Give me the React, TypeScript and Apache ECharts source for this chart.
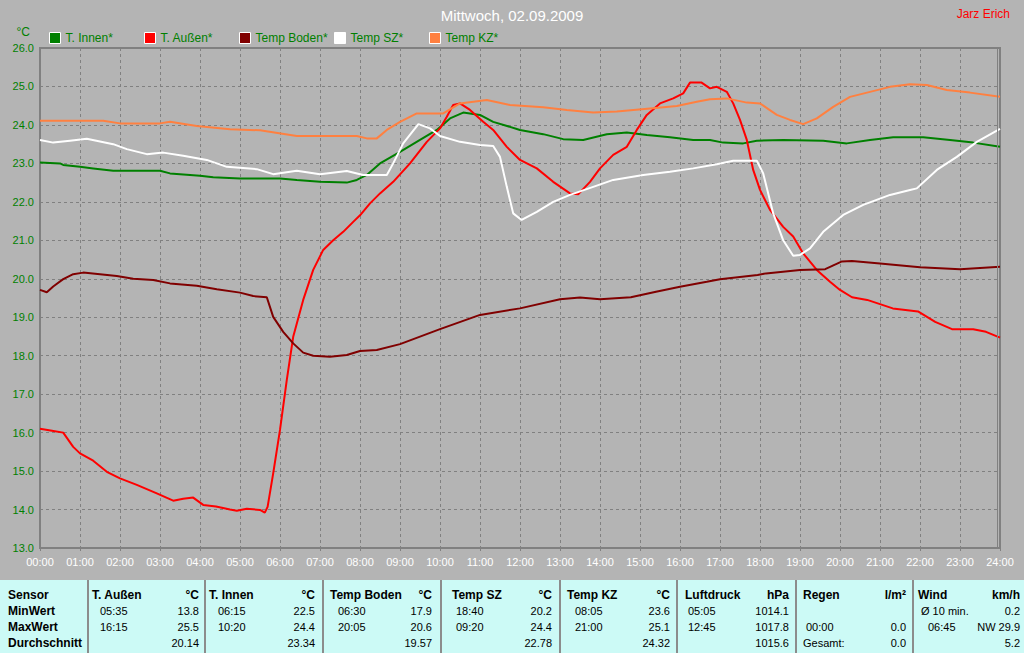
import React, { useEffect, useRef } from "react";
import * as echarts from "echarts";

// ---------- chart data ----------
const seriesNames = ["T. Innen*", "T. Außen*", "Temp Boden*", "Temp SZ*", "Temp KZ*"];
const seriesColors = ["#008000", "#ff0000", "#800000", "#ffffff", "#ff8040"];

const innenTimes = [0, 0.5, 0.58, 1, 1.33, 1.83, 3, 3.25, 4, 4.33, 5, 6, 6.42, 7, 7.67, 7.92, 8.17, 8.5, 9, 9.5, 9.92, 10.25, 10.58, 11, 11.33, 12, 12.58, 13.08, 13.58, 14.17, 14.67, 15.17, 15.75, 16.33, 16.75, 17.08, 17.58, 17.92, 18.58, 19.58, 20.17, 20.75, 21.33, 22.08, 22.75, 23.33, 24];
const innenValues = [23.02, 23.0, 22.96, 22.91, 22.87, 22.81, 22.81, 22.74, 22.68, 22.64, 22.61, 22.61, 22.57, 22.52, 22.5, 22.57, 22.7, 23.0, 23.3, 23.61, 23.87, 24.17, 24.32, 24.26, 24.08, 23.87, 23.76, 23.63, 23.61, 23.76, 23.8, 23.74, 23.68, 23.61, 23.61, 23.54, 23.52, 23.59, 23.61, 23.59, 23.52, 23.61, 23.68, 23.68, 23.61, 23.54, 23.43];

const aussenTimes = [0, 0.3, 0.58, 0.83, 1, 1.33, 1.67, 2, 2.42, 2.92, 3.33, 3.58, 3.83, 4.08, 4.4, 4.75, 4.92, 5.17, 5.5, 5.62, 5.69, 5.83, 6, 6.17, 6.33, 6.58, 6.83, 7.08, 7.33, 7.58, 7.83, 8, 8.25, 8.5, 8.83, 9.25, 9.67, 10, 10.17, 10.33, 10.5, 10.75, 11.08, 11.33, 11.67, 12, 12.42, 12.83, 13.25, 13.46, 13.75, 14, 14.33, 14.67, 14.92, 15.17, 15.5, 15.83, 16.08, 16.25, 16.54, 16.75, 16.92, 17.17, 17.33, 17.5, 17.67, 17.83, 18, 18.25, 18.58, 18.83, 19.08, 19.42, 19.75, 20, 20.3, 20.68, 21.32, 21.95, 22.38, 22.8, 23.33, 23.65, 24];
const aussenValues = [16.1, 16.05, 16.0, 15.63, 15.46, 15.27, 14.98, 14.81, 14.64, 14.42, 14.23, 14.28, 14.31, 14.12, 14.08, 14.0, 13.97, 14.02, 13.99, 13.92, 14.07, 14.94, 16.07, 17.37, 18.49, 19.45, 20.23, 20.75, 21.0, 21.22, 21.48, 21.65, 21.96, 22.22, 22.52, 23.0, 23.56, 23.91, 24.21, 24.52, 24.56, 24.39, 24.08, 23.87, 23.43, 23.09, 22.87, 22.52, 22.22, 22.2, 22.52, 22.87, 23.22, 23.43, 23.87, 24.26, 24.56, 24.69, 24.82, 25.1, 25.1, 24.95, 24.99, 24.86, 24.56, 24.13, 23.61, 22.83, 22.31, 21.79, 21.35, 21.1, 20.66, 20.23, 19.92, 19.71, 19.52, 19.45, 19.23, 19.15, 18.88, 18.69, 18.69, 18.62, 18.47];

const bodenTimes = [0, 0.17, 0.33, 0.58, 0.83, 1.08, 1.5, 1.92, 2.33, 2.83, 3.25, 3.92, 4.42, 5, 5.33, 5.67, 5.83, 6.08, 6.33, 6.58, 6.83, 7.25, 7.67, 8, 8.42, 9, 10, 11, 12, 13, 13.5, 14, 14.77, 15.4, 16, 16.67, 17, 17.94, 18.15, 19, 19.63, 20.05, 20.3, 21, 22, 23, 24];
const bodenValues = [19.71, 19.65, 19.8, 19.99, 20.12, 20.16, 20.12, 20.07, 20.0, 19.97, 19.88, 19.82, 19.73, 19.64, 19.55, 19.52, 19.01, 18.62, 18.32, 18.08, 18.0, 17.97, 18.02, 18.12, 18.15, 18.3, 18.69, 19.06, 19.23, 19.47, 19.51, 19.47, 19.52, 19.66, 19.79, 19.92, 19.99, 20.1, 20.14, 20.23, 20.25, 20.45, 20.46, 20.4, 20.3, 20.25, 20.31];

const szTimes = [0, 0.33, 0.75, 1.17, 1.83, 2.17, 2.67, 3.08, 3.58, 4.17, 4.67, 5.42, 5.83, 6.42, 7, 7.67, 8.08, 8.67, 8.83, 9.08, 9.46, 9.75, 10, 10.5, 11, 11.33, 11.5, 11.67, 11.83, 12.04, 12.42, 12.83, 13.25, 13.83, 14.33, 15.08, 15.75, 16.33, 16.92, 17.33, 17.92, 18.08, 18.33, 18.58, 18.83, 19, 19.25, 19.58, 20.08, 20.58, 21.25, 21.75, 21.92, 22.42, 22.92, 23.42, 24];
const szValues = [23.61, 23.54, 23.59, 23.64, 23.5, 23.37, 23.24, 23.28, 23.2, 23.09, 22.91, 22.85, 22.72, 22.81, 22.72, 22.8, 22.7, 22.7, 23.0, 23.52, 24.02, 23.91, 23.71, 23.56, 23.48, 23.45, 23.17, 22.39, 21.7, 21.53, 21.74, 22.0, 22.18, 22.39, 22.57, 22.7, 22.78, 22.87, 22.98, 23.07, 23.07, 22.74, 21.7, 21.0, 20.6, 20.62, 20.79, 21.22, 21.66, 21.92, 22.18, 22.31, 22.35, 22.83, 23.17, 23.56, 23.9];

const kzTimes = [0, 1.58, 2, 3, 3.25, 3.92, 4.75, 5.5, 6.42, 7.92, 8.17, 8.42, 8.67, 9, 9.42, 10.08, 10.5, 11.17, 11.75, 12.58, 13.17, 13.83, 14.42, 15.25, 15.92, 16.42, 16.75, 17.17, 17.67, 18, 18.42, 18.75, 19.08, 19.42, 19.83, 20.25, 20.75, 21.25, 21.75, 22.17, 22.67, 23.25, 24];
const kzValues = [24.11, 24.11, 24.04, 24.04, 24.08, 23.97, 23.89, 23.86, 23.71, 23.71, 23.65, 23.65, 23.87, 24.08, 24.3, 24.3, 24.56, 24.65, 24.52, 24.46, 24.39, 24.32, 24.35, 24.43, 24.49, 24.6, 24.67, 24.69, 24.58, 24.56, 24.26, 24.13, 24.02, 24.17, 24.47, 24.73, 24.86, 24.99, 25.06, 25.04, 24.91, 24.84, 24.73];

// ---------- table data ----------
const rowLabels = ["Sensor", "MinWert", "MaxWert", "Durchschnitt"];
const tableHeaders = ["T. Außen", "T. Innen", "Temp Boden", "Temp SZ", "Temp KZ", "Luftdruck", "Regen", "Wind"];
const tableUnits = ["°C", "°C", "°C", "°C", "°C", "hPa", "l/m²", "km/h"];
const minTimes = ["05:35", "06:15", "06:30", "18:40", "08:05", "05:05", "", "Ø 10 min."];
const minValues = ["13.8", "22.5", "17.9", "20.2", "23.6", "1014.1", "", "0.2"];
const maxTimes = ["16:15", "10:20", "20:05", "09:20", "21:00", "12:45", "00:00", "06:45"];
const maxValues = ["25.5", "24.4", "20.6", "24.4", "25.1", "1017.8", "0.0", "NW 29.9"];
const avgLabels = ["", "", "", "", "", "", "Gesamt:", ""];
const avgValues = ["20.14", "23.34", "19.57", "22.78", "24.32", "1015.6", "0.0", "5.2"];

// ---------- layout (not data) ----------
const colLines = [88, 205, 323, 441, 560, 677, 796, 913];
const headerX = [92, 209, 330, 452, 567, 685, 803, 918];
const minTimeX = [100, 218, 338, 456, 575, 688, 806, 921];
const maxTimeX = [100, 218, 338, 456, 575, 688, 806, 928];
const avgLabelX = [100, 218, 338, 456, 575, 688, 803, 928];
const rightX = [199, 315, 432, 552, 670, 789, 906, 1020];
const rowY = [595, 611, 627, 643];

const FONT = '"Liberation Sans", Arial, sans-serif';

function zip(t: number[], v: number[]) {
  return t.map((x, i) => [x, v[i]]);
}

function txt(text: string, x: number, y: number, opts: any = {}) {
  const align = opts.align || "left";
  return {
    type: "text",
    silent: true,
    z: 10,
    style: {
      text,
      x,
      y,
      fill: opts.fill || "#000000",
      font: opts.font || `11px ${FONT}`,
      textAlign: align,
      align,
      textVerticalAlign: "middle",
      verticalAlign: "middle",
    },
  };
}

export default function App() {
  const ref = useRef<HTMLDivElement>(null);
  useEffect(() => {
    if (!ref.current) return;
    const chart = echarts.init(ref.current, null, { renderer: "svg" });

    const seriesData = [
      zip(innenTimes, innenValues),
      zip(aussenTimes, aussenValues),
      zip(bodenTimes, bodenValues),
      zip(szTimes, szValues),
      zip(kzTimes, kzValues),
    ];

    const bold = `bold 12px ${FONT}`;
    const normal = `11px ${FONT}`;
    const tableEls: any[] = [];
    tableEls.push({
      type: "rect",
      silent: true,
      z: 5,
      shape: { x: 0, y: 580, width: 1024, height: 73 },
      style: { fill: "#ccfaf6" },
    });
    colLines.forEach((x) => {
      tableEls.push({
        type: "line",
        silent: true,
        z: 6,
        shape: { x1: x, y1: 580, x2: x, y2: 653 },
        style: { stroke: "#8c8c8c", lineWidth: 2 },
      });
    });
    rowLabels.forEach((l, r) => tableEls.push(txt(l, 8, rowY[r], { font: bold })));
    tableHeaders.forEach((h, c) => {
      tableEls.push(txt(h, headerX[c], rowY[0], { font: bold }));
      tableEls.push(txt(tableUnits[c], rightX[c], rowY[0], { font: bold, align: "right" }));
      if (minTimes[c]) tableEls.push(txt(minTimes[c], minTimeX[c], rowY[1], { font: normal }));
      if (minValues[c]) tableEls.push(txt(minValues[c], rightX[c], rowY[1], { font: normal, align: "right" }));
      if (maxTimes[c]) tableEls.push(txt(maxTimes[c], maxTimeX[c], rowY[2], { font: normal }));
      if (maxValues[c]) tableEls.push(txt(maxValues[c], rightX[c], rowY[2], { font: normal, align: "right" }));
      if (avgLabels[c]) tableEls.push(txt(avgLabels[c], avgLabelX[c], rowY[3], { font: normal }));
      if (avgValues[c]) tableEls.push(txt(avgValues[c], rightX[c], rowY[3], { font: normal, align: "right" }));
    });

    const pad = (n: number) => (n < 10 ? "0" + n : "" + n);

    const option: any = {
      animation: false,
      backgroundColor: "#b4b4b4",
      title: [
        {
          text: "Mittwoch, 02.09.2009",
          left: "center",
          top: 3,
          textStyle: { color: "#ffffff", fontSize: 15, fontWeight: "normal", fontFamily: FONT },
        },
        {
          text: "Jarz Erich",
          right: 9,
          top: 3,
          textStyle: { color: "#ff0000", fontSize: 12, fontWeight: "normal", fontFamily: FONT },
        },
      ],
      legend: seriesNames.map((n, i) => ({
        data: [n],
        left: 49 + 95 * i,
        top: 32,
        itemWidth: 11,
        itemHeight: 11,
        icon: "rect",
        selectedMode: false,
        padding: 0,
        itemStyle: { borderColor: "#ffffff", borderWidth: 1 },
        textStyle: { color: "#008000", fontSize: 12, fontFamily: FONT, padding: [0, 0, 0, 0] },
      })),
      grid: {
        left: 40,
        right: 24,
        top: 48,
        bottom: 105,
        show: true,
        borderColor: "#808080",
        borderWidth: 2,
        backgroundColor: "transparent",
      },
      xAxis: {
        type: "value",
        min: 0,
        max: 24,
        interval: 1,
        axisLine: { show: false },
        axisTick: { show: true, length: 3, lineStyle: { color: "#808080" } },
        axisLabel: {
          color: "#ffffff",
          fontSize: 11,
          fontFamily: FONT,
          margin: 8,
          formatter: (v: number) => pad(v) + ":00",
        },
        splitLine: { show: true, lineStyle: { color: "#808080", type: [3, 3], width: 1 } },
      },
      yAxis: {
        type: "value",
        min: 13,
        max: 26,
        interval: 1,
        name: "°C",
        nameLocation: "end",
        nameGap: 10,
        nameTextStyle: { color: "#008000", fontSize: 12, fontFamily: FONT, align: "right", padding: [0, 10, 0, 0] },
        axisLine: { show: false },
        axisTick: { show: false },
        axisLabel: {
          color: "#008000",
          fontSize: 11,
          fontFamily: FONT,
          margin: 6,
          formatter: (v: number) => v.toFixed(1),
        },
        splitLine: { show: true, lineStyle: { color: "#808080", type: [3, 3], width: 1 } },
      },
      series: seriesNames.map((n, i) => ({
        name: n,
        type: "line",
        data: seriesData[i],
        showSymbol: false,
        symbol: "none",
        color: seriesColors[i],
        lineStyle: { color: seriesColors[i], width: 2 },
        z: 3,
      })),
      graphic: [
        {
          type: "line",
          silent: true,
          z: 4,
          shape: { x1: 997.5, y1: 48, x2: 997.5, y2: 548 },
          style: { stroke: "#808080", lineWidth: 1 },
        },
        ...tableEls,
      ],
    };
    chart.setOption(option);
    return () => chart.dispose();
  }, []);

  return (
    <div
      ref={ref}
      style={{ position: "absolute", left: 0, top: 0, width: 1024, height: 653 }}
    />
  );
}
